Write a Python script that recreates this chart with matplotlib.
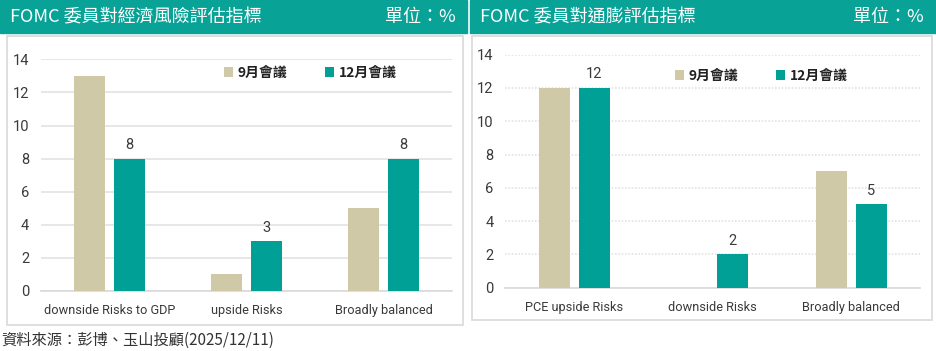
import numpy as np
import matplotlib
matplotlib.use('Agg')
import matplotlib.pyplot as plt
from matplotlib.patches import Rectangle

plt.rcParams['font.family'] = ['Noto Sans CJK TC', 'DejaVu Sans']
NARROW = ['Roboto', 'Noto Sans CJK TC']

## data
cats_gdp = ['downside Risks to GDP', 'upside Risks', 'Broadly balanced']
sep_gdp = [13, 1, 5]
dec_gdp = [8, 3, 8]

cats_pce = ['PCE upside Risks', 'downside Risks', 'Broadly balanced']
sep_pce = [12, 0, 7]
dec_pce = [12, 2, 5]

series_names = ['9月會議', '12月會議']
titles = ['FOMC 委員對經濟風險評估指標', 'FOMC 委員對通膨評估指標']
unit = '單位：%'
source = '資料來源：彭博、玉山投顧(2025/12/11)'
yticks = [0, 2, 4, 6, 8, 10, 12, 14]

TEAL = '#00A096'
BEIGE = '#D0C9A8'
HEAD = '#08A296'
TXT = '#3a3a3a'

W, H = 936, 351
fig = plt.figure(figsize=(W / 100, H / 100), dpi=100)

def fx(px):
    return px / W

def fy(py):
    return 1 - py / H

## headers and panel boxes (pixel positions)
for x0, x1 in [(0, 467), (470, 936)]:
    fig.patches.append(Rectangle((fx(x0), fy(33)), fx(x1 - x0), 33 / H,
                                 transform=fig.transFigure, color=HEAD, zorder=-5))
for x0, x1, yb in [(7, 463, 325), (472, 932, 320)]:
    fig.patches.append(Rectangle((fx(x0), fy(yb)), fx(x1 - x0), (yb - 36) / H,
                                 transform=fig.transFigure, facecolor='white',
                                 edgecolor='#d9d9d9', lw=1.2, zorder=-5))

fig.text(fx(10), fy(17), titles[0], color='white', fontsize=13, va='center', ha='left')
fig.text(fx(456), fy(17), unit, color='white', fontsize=13, va='center', ha='right')
fig.text(fx(480), fy(17), titles[1], color='white', fontsize=13, va='center', ha='left')
fig.text(fx(924), fy(17), unit, color='white', fontsize=13, va='center', ha='right')
fig.text(fx(1), fy(340), source, color='#333333', fontsize=11, va='center', ha='left')


def draw_panel(rect, cats, s1, s2, grid_ls, leg_xy):
    ax = fig.add_axes(rect)
    x = np.arange(len(cats))
    w = 0.224
    off = 0.144
    b1 = ax.bar(x - off, s1, w, color=BEIGE, zorder=3, label=series_names[0])
    b2 = ax.bar(x + off, s2, w, color=TEAL, zorder=3, label=series_names[1])
    for xi, v in zip(x, s2):
        ax.text(xi + off, v + 0.4, str(v), ha='center', va='bottom', fontsize=10.5,
                color=TXT, family=NARROW)
    ax.set_xlim(-0.5, len(cats) - 0.5)
    ax.set_ylim(0, 14)
    ax.set_yticks(yticks)
    ax.set_yticklabels([str(t) for t in yticks], family=NARROW, fontsize=10.5, color=TXT)
    ax.set_xticks(x)
    ax.set_xticklabels(cats, family=NARROW, fontsize=9.2, color=TXT)
    ax.tick_params(axis='y', length=0, pad=8.5)
    ax.tick_params(axis='x', length=0, pad=9.5)
    ax.grid(axis='y', color='#e3e3e3', lw=1.2, ls=grid_ls, zorder=0)
    for s in ['top', 'right', 'left']:
        ax.spines[s].set_visible(False)
    ax.spines['bottom'].set_color('#d9d9d9')
    ax.spines['bottom'].set_linewidth(1.2)
    ax.set_facecolor('none')
    leg = ax.legend(handles=[b1, b2], loc='center left', bbox_to_anchor=leg_xy,
                    bbox_transform=fig.transFigure, ncol=2, frameon=False,
                    handlelength=0.7, handleheight=0.7, handletextpad=0.3,
                    columnspacing=2.7, prop={'weight': 'bold', 'size': 10})
    for t in leg.get_texts():
        t.set_color('#222222')
    return ax


draw_panel([fx(41), fy(291), fx(452 - 41), (291 - 59.3) / H],
           cats_gdp, sep_gdp, dec_gdp, '-', (fx(211), fy(73)))
draw_panel([fx(505.3), fy(287.7), fx(920.3 - 505.3), (287.7 - 54.7) / H],
           cats_pce, sep_pce, dec_pce, (0, (1, 1)), (fx(662), fy(76)))

fig.savefig('out.png', dpi=100)
